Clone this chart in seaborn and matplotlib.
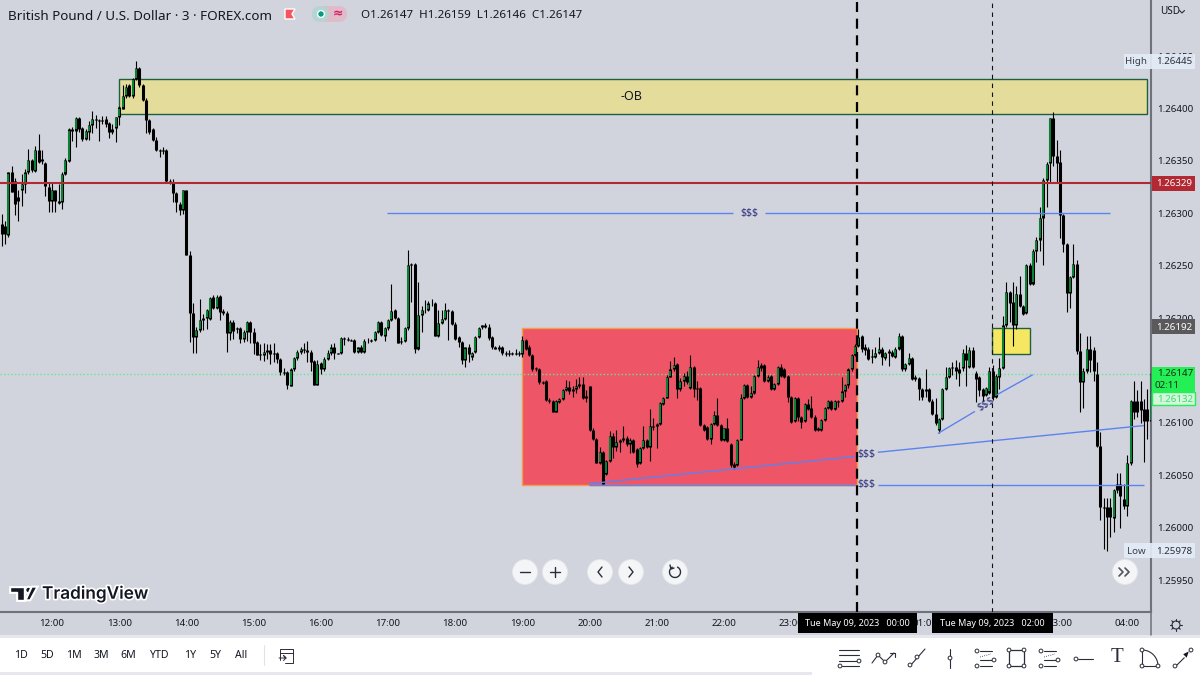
import numpy as np
import pandas as pd
import matplotlib
matplotlib.use("Agg")
import matplotlib.pyplot as plt
from matplotlib.patches import Rectangle, Circle, FancyBboxPatch, Polygon
from matplotlib.ticker import FuncFormatter
import matplotlib.patheffects as pe
import seaborn as sns

# GBP/USD 3-minute candles, in points above 1.26000 (one point = 0.00001)
opens = [
    290,288,279,339,331,316,322,328,339,351, 340,360,352,348,325,312,322,312,311,338,
    350,380,379,391,381,371,378,384,390,389, 388,390,386,380,381,392,400,412,422,412,
    428,439,422,408,389,380,370,360,359,360, 331,330,319,309,303,322,260,205,182,189,
    198,200,199,220,210,221,207,205,186,196, 190,191,180,187,196,187,177,166,165,168,
    170,167,167,161,149,149,135,151,162,168, 171,170,168,159,136,157,151,161,167,172,
    167,167,181,180,179,179,168,172,168,178, 178,179,187,196,183,191,198,208,200,178,
    178,191,251,252,171,203,208,208,214,214, 183,195,199,208,207,194,182,177,160,172,
    163,168,182,192,192,192,182,172,172,172, 167,167,167,166,167,166,179,172,165,152,
    151,139,140,122,121,110,120,123,131,134, 130,132,135,137,124,135,93,85,62,72,
    51,64,88,77,82,84,86,80,84,75, 62,76,84,77,97,97,99,118,124,144,
    151,156,132,140,145,133,153,133,133,98, 96,85,99,108,98,84,95,80,61,60,
    84,124,136,125,129,145,155,155,140,145, 132,137,153,151,145,125,102,124,106,102,
    118,114,106,95,93,103,114,121,113,121, 121,130,136,151,165,173,183,172,171,164,
    163,167,171,162,167,168,163,171,183,151, 156,162,144,143,132,130,132,121,109,93,
    104,132,144,152,153,151,152,167,153,170, 148,144,132,127,129,150,125,144,152,193,
    225,215,193,223,212,205,251,233,264,275, 296,332,348,391,355,349,298,271,224,239,
    252,169,139,150,171,170,147,78,20,20, 20,9,42,42,27,21,62,121,121,121,
    113,113,102,
]
highs = [
    299,293,339,345,334,322,338,342,361,352, 364,376,360,349,330,330,322,328,339,353,
    381,382,392,392,382,380,388,398,394,390, 393,393,387,385,392,402,422,423,423,429,
    445,440,423,410,390,381,373,361,363,361, 333,333,320,311,322,322,264,214,192,218,
    204,209,220,222,222,222,209,207,198,198, 192,192,189,197,197,191,178,175,176,175,
    175,176,168,162,152,150,152,163,170,172, 176,178,170,160,160,158,163,170,175,176,
    167,182,182,182,180,180,172,174,180,181, 180,188,197,197,192,199,233,209,201,182,
    192,265,253,253,234,212,217,216,218,215, 208,208,214,209,208,196,183,178,172,175,
    168,183,192,193,195,194,183,173,174,173, 169,170,168,171,169,183,180,174,166,153,
    152,140,141,124,122,122,124,132,141,140, 135,142,144,144,131,135,95,86,77,73,
    65,92,90,93,85,97,88,86,85,76, 77,97,85,113,105,100,120,125,146,159,
    163,157,143,148,150,165,154,140,134,99, 97,100,111,124,99,95,105,81,63,85,
    128,137,137,135,146,160,157,156,146,146, 138,154,156,152,146,126,125,125,107,119,
    123,126,108,96,104,115,122,122,122,122, 144,137,152,166,175,190,184,175,172,171,
    172,182,172,168,171,170,172,186,184,157, 167,163,146,144,133,151,133,123,124,105,
    133,153,153,158,160,158,171,174,172,172, 150,145,133,134,153,155,147,162,202,234,
    226,234,231,240,213,252,253,266,277,306, 334,349,391,397,370,360,299,272,240,271,
    255,186,152,183,183,172,158,91,28,28, 28,37,52,52,42,69,122,140,131,140,
    123,132,150,
]
lows = [
    269,271,277,320,298,293,307,319,338,339, 339,348,347,317,301,301,301,309,304,337,
    349,369,363,378,369,370,370,377,381,369, 385,382,372,376,368,384,400,410,411,410,
    427,421,407,377,376,369,359,354,357,330, 328,311,301,298,299,260,177,167,167,187,
    189,190,198,209,209,198,203,168,179,180, 186,176,177,178,176,166,165,160,159,161,
    156,158,157,146,146,132,135,150,160,166, 167,158,150,136,136,147,150,160,165,161,
    166,166,174,178,178,167,167,167,167,176, 177,178,186,183,178,189,197,199,176,175,
    177,189,215,167,170,187,205,207,212,183, 182,194,198,179,193,179,172,156,153,158,
    160,167,181,190,191,179,171,171,169,165, 164,164,165,165,164,163,170,164,150,150,
    137,137,121,119,110,110,119,122,130,128, 125,129,133,123,120,92,84,62,61,42,
    50,63,67,73,72,82,78,71,71,58, 61,75,76,64,93,76,98,117,124,144,
    150,124,130,135,137,132,125,122,97,92, 84,80,98,97,83,83,82,58,56,59,
    84,123,124,124,128,144,150,139,139,131, 131,136,144,143,120,100,101,102,95,101,
    112,105,92,92,92,102,113,112,112,115, 120,125,133,150,164,172,168,165,160,157,
    162,166,155,160,154,163,162,170,150,150, 155,141,140,122,122,125,120,108,98,90,
    103,131,143,146,142,135,150,135,152,152, 120,126,121,126,128,122,124,132,151,192,
    196,173,190,211,203,204,232,232,254,264, 251,306,330,345,330,276,263,206,210,238,
    166,110,114,148,149,140,77,7,-20,-22, -9,-4,33,0,18,11,60,104,106,100,
    63,85,102,
]
closes = [
    280,280,339,320,309,312,328,339,351,341, 360,349,350,326,312,322,312,310,338,351,
    380,379,391,380,371,379,384,390,389,388, 389,385,378,378,392,401,412,421,412,428,
    439,422,408,389,378,370,360,359,360,331, 330,319,311,303,322,260,205,182,189,198,
    200,208,219,210,220,206,205,186,196,188, 191,180,187,196,187,176,165,165,168,170,
    166,166,161,149,148,136,151,162,168,171, 170,168,158,136,156,151,161,167,172,167,
    166,181,180,179,178,168,172,168,178,178, 179,187,196,184,191,198,207,200,176,177,
    191,251,252,171,203,208,208,214,214,183, 195,199,208,207,194,180,177,160,172,166,
    167,182,191,193,193,181,172,171,171,167, 166,166,166,167,166,179,171,165,151,151,
    139,138,122,121,110,121,123,131,134,130, 132,135,137,124,126,93,85,62,72,42,
    64,88,77,82,84,86,80,84,72,61, 76,84,77,97,96,99,119,124,144,151,
    155,132,140,145,139,153,132,132,98,93, 85,99,108,98,84,95,83,60,58,84,
    124,136,125,129,145,153,152,140,144,132, 137,153,145,144,125,101,124,106,101,118,
    113,106,93,93,103,114,121,113,121,120, 130,136,151,165,173,182,171,170,161,163,
    167,171,163,167,169,164,171,183,151,156, 162,142,142,132,125,132,121,109,100,104,
    132,144,152,153,150,148,167,160,170,153, 142,131,126,133,150,125,145,152,193,225,
    214,193,223,212,204,251,233,264,275,296, 332,347,391,355,348,298,271,224,239,252,
    169,139,150,171,160,150,78,20,19,10, 10,36,36,30,21,62,121,110,110,112,
    102,102,147,
]

def price(points):
    return 1.26 + np.asarray(points, dtype=float) * 1e-5

# hour labels and the bar each one falls on (first bar is 11:15)
hour_labels = ["12:00","13:00","14:00","15:00","16:00","17:00","18:00","19:00","20:00",
               "21:00","22:00","23:00","","01:00","","03:00","04:00"]
hour_bars = [15 + 20 * i for i in range(len(hour_labels))]

price_ticks = [1.25950, 1.26000, 1.26050, 1.26100, 1.26200, 1.26250,
               1.26300, 1.26350, 1.26400, 1.26450]

# drawn levels and zones, in bar number and points
ob_zone = (34.9, 340.9, 394.3, 428.6)
red_zone = (154.9, 254.6, 41.0, 191.0)
small_zone = (294.8, 306.1, 166.0, 191.0)
resistance_level = 329
last_close = 147
session_lines = (254.6, 294.8)
level_300 = [(114.7, 217.7, 300, 300), (227.2, 329.9, 300, 300)]
level_041 = [(174.8, 254.0, 41, 41), (260.8, 340.0, 41, 41)]
trend_main = [(174.8, 254.0, 42, 68), (260.8, 340.0, 72, 97.5)]
trend_short = [(278.7, 289.7, 90, 111), (296.3, 306.9, 127, 146)]

BG = "#d1d4dc"
GREEN = "#0b9c3f"
BLUE = "#5c82ee"
TEXT = "#131722"

sns.set_theme(style="white", rc={
    "figure.facecolor": BG, "axes.facecolor": BG, "lines.solid_capstyle": "butt",
    "axes.edgecolor": "#6f727b",
})
plt.rcParams["font.family"] = ["Noto Sans", "DejaVu Sans"]

fig = plt.figure(figsize=(12, 6.75), dpi=100)
ax = fig.add_axes([0, 1 - 612 / 675, 1151 / 1200, 612 / 675])
ax.set_zorder(1)

# candle table
bars = np.arange(len(closes))
o, h, l, c = (np.array(a, dtype=float) for a in (opens, highs, lows, closes))
wicks = pd.DataFrame({"bar": np.repeat(bars, 2), "price": price(np.column_stack([l, h]).ravel())})
bodies = pd.DataFrame({"bar": np.repeat(bars, 2), "price": price(np.column_stack([o, c]).ravel())})
up = c > o + 2
inner = pd.DataFrame({
    "bar": np.repeat(bars[up], 2),
    "price": price(np.column_stack([o[up] + 1, c[up] - 1]).ravel()),
})

def zone(rect, face, edge, lw=1.0):
    x0, x1, y0, y1 = rect
    ax.add_patch(Rectangle((x0, price(y0)), x1 - x0, price(y1) - price(y0),
                           facecolor=face, edgecolor=edge, linewidth=lw, zorder=1.5))

zone(ob_zone, "#e4dc9b", "#1f5f3f", 1.0)
zone(red_zone, "#ee5566", "#f3a04b", 1.0)
zone(small_zone, "#f6e763", "#1f5f3f", 1.0)

common = dict(units="bar", estimator=None, sort=False, legend=False, ax=ax)
sns.lineplot(data=wicks, x="bar", y="price", color="black", linewidth=0.8, zorder=3, **common)
sns.lineplot(data=bodies, x="bar", y="price", color="black", linewidth=2.2, zorder=3.1, **common)
sns.lineplot(data=inner, x="bar", y="price", color=GREEN, linewidth=1.2, zorder=3.2, **common)

# price levels and trend lines
ax.axhline(price(resistance_level), color="#b22833", linewidth=1.5, zorder=4)
ax.axhline(price(last_close), color="#66e592", linewidth=1.0, linestyle=(0, (1, 1.6)), zorder=2.5)
for seg in level_300 + level_041 + trend_main + trend_short:
    ax.plot(seg[:2], price(seg[2:]), color=BLUE, linewidth=1.0, zorder=4)
ax.axvline(session_lines[0], color="black", linewidth=1.6, linestyle=(0, (4.5, 3)), zorder=5)
ax.axvline(session_lines[1], color="#111111", linewidth=0.8, linestyle=(0, (4, 4)), zorder=5)

ax.text(187.6, price(411), "-OB", ha="center", va="center", fontsize=9, color=TEXT, zorder=6)
for bx, pts, rot in [(222.5, 300, 0), (257.5, 69.5, 0), (257.5, 41, 0), (293, 118, 32)]:
    ax.text(bx, price(pts), "$$$", ha="center", va="center", fontsize=7.6, color="#2a2e78",
            rotation=rot, rotation_mode="anchor", zorder=6)

# axes and scales
ax.set_xlim(-0.476, 342.1)
ax.set_ylim(price(-80.4), price(503.55))
ax.set_xticks(hour_bars, hour_labels)
ax.set_yticks(price_ticks)
ax.yaxis.set_major_formatter(FuncFormatter(lambda v, _: f"{v:.5f}"))
ax.yaxis.tick_right()
ax.tick_params(axis="x", length=0, pad=5, labelsize=7.0, colors=TEXT)
ax.tick_params(axis="y", length=0, pad=4.2, labelsize=7.0, colors=TEXT)
ax.set_xlabel("")
ax.set_ylabel("")
ax.grid(False)
for side in ("top", "left"):
    ax.spines[side].set_visible(False)
for side in ("bottom", "right"):
    ax.spines[side].set_linewidth(1.5)
    ax.spines[side].set_color("#6f727b")

# interface layer, one data unit per pixel
ui = fig.add_axes([0, 0, 1, 1], facecolor="none")
ui.set_xlim(0, 1200)
ui.set_ylim(675, 0)
ui.axis("off")
ui.set_zorder(5)

def rect(x0, y0, x1, y1, face, edge="none", lw=0, z=2, alpha=None):
    ui.add_patch(Rectangle((x0, y0), x1 - x0, y1 - y0, facecolor=face, edgecolor=edge,
                           linewidth=lw, zorder=z, alpha=alpha))

def label(x, y, s, size=7.0, color=TEXT, ha="center", z=4, **kw):
    ui.text(x, y, s, fontsize=size, color=color, ha=ha, va="center", zorder=z, **kw)

def stroke(xs, ys, lw=0.8, color="#2a2e39", z=4, **kw):
    ui.plot(xs, ys, color=color, linewidth=lw, zorder=z, solid_capstyle="round", **kw)

def handle(x, y, r=1.9):
    ui.add_patch(Circle((x, y), r, facecolor="white", edgecolor="#2a2e39", linewidth=0.7, zorder=5))

# vertical rule that runs on through the time scale
stroke([1151, 1151], [612, 635], lw=1.1, color="#6f727b")

# header line
label(8, 16, "British Pound / U.S. Dollar · 3 · FOREX.com", size=9.7, ha="left")
ui.add_patch(Polygon([(285, 9), (295, 9), (292, 14), (295, 19), (285, 19)], facecolor="#f7525f", zorder=4))
ui.add_patch(FancyBboxPatch((320, 6), 18, 16, boxstyle="round,pad=0,rounding_size=2", facecolor="#e0bccb", edgecolor="none", zorder=3))
ui.add_patch(FancyBboxPatch((312, 6), 17, 16, boxstyle="round,pad=0,rounding_size=8", facecolor="#b4d5d2", edgecolor="none", zorder=3.1))
ui.add_patch(FancyBboxPatch((329, 6), 18, 16, boxstyle="round,pad=0,rounding_size=8", facecolor="#e0bccb", edgecolor="none", zorder=3.1))
ui.add_patch(Circle((321, 14), 3.4, facecolor="#089981", zorder=4))
label(338, 14, "≈", size=9, color="#d81b60", fontweight="bold")
label(361, 16, "O1.26147  H1.26159  L1.26146  C1.26147", size=8.35, ha="left")
label(1170, 11.5, "USD", size=7.2)
stroke([1179.5, 1182, 1184.5], [10.5, 13, 10.5], lw=0.8)

# price tags on the right scale
rect(1124, 54, 1195, 69, "#e3edf7", alpha=0.92)
label(1136, 61.5, "High", size=7.0, color="#3b3f4a")
label(1174, 61.5, "1.26445", color="#2a2e39")
rect(1124, 543, 1195, 558, "#e3edf7", alpha=0.92)
label(1136, 551, "Low", size=7.0, color="#3b3f4a")
label(1174, 551, "1.25978", color="#2a2e39")
rect(1152, 176, 1195, 191, "#b22833")
label(1174, 183.5, "1.26329", color="white", fontweight="bold")
rect(1152, 319, 1195, 334, "#5a5a5c")
label(1174, 327, "1.26192", color="white", fontweight="bold")
rect(1152, 367, 1195, 392, "#24ef55")
label(1175, 374, "1.26147", color="#14301c", fontweight="bold", z=5)
label(1167, 386, "02:11", color="#14301c", z=5)
rect(1152, 392, 1195, 405, "#d5f5dd", edge="#24ef55", lw=1)
label(1175, 399, "1.26132", color="#37e06a", fontweight="bold", z=5)

# crosshair date tags
for x0, x1, tag in [(798, 917, "Tue May 09, 2023   00:00"), (932, 1053, "Tue May 09, 2023   02:00")]:
    rect(x0, 613, x1, 633, "black")
    label((x0 + x1) / 2, 623, tag, size=6.5, color="white")

# chart navigation buttons
for x, y in [(525, 572), (555, 572), (600, 572), (631, 572), (675, 572), (1125, 572)]:
    ui.add_patch(Circle((x, y), 12.5, facecolor="#f4f5f7", edgecolor="#e4e6ec", linewidth=0.6, zorder=3))
stroke([520, 530], [572, 572], lw=1.0)
stroke([550, 560], [572, 572], lw=1.0)
stroke([555, 555], [567, 577], lw=1.0)
stroke([602, 598, 602], [567, 572, 577], lw=1.0)
stroke([629, 633, 629], [567, 572, 577], lw=1.0)
ang = np.linspace(-1.1, 4.2, 40)
stroke(675 + 5.5 * np.cos(ang), 572 + 5.5 * np.sin(ang), lw=1.0)
stroke([670, 671, 674], [565, 569, 568], lw=1.0)
stroke([1119, 1123, 1119], [568, 572, 576], lw=1.2, color="#50535e")
stroke([1125, 1129, 1125], [568, 572, 576], lw=1.2, color="#50535e")

# wordmark
halo = [pe.withStroke(linewidth=2.4, foreground="white")]
logo = [Polygon([(10, 587), (24, 587), (24, 600), (17, 600), (17, 592), (10, 592)], facecolor="#131722", zorder=4),
        Circle((28.5, 590), 2.9, facecolor="#131722", zorder=4),
        Polygon([(30, 600), (26, 600), (32, 587), (37, 587)], facecolor="#131722", zorder=4)]
for patch in logo:
    patch.set_path_effects([pe.withStroke(linewidth=2.0, foreground="white")])
    ui.add_patch(patch)
ui.text(42, 594, "TradingView", fontsize=12.4, fontweight="semibold", family="Inter", color="#131722",
        va="center", ha="left", zorder=4, path_effects=halo)

# time-range bar
rect(0, 635, 1200, 675, "#e6e8ee", z=1)
rect(0, 638, 1200, 672, "white", z=1.2)
ui.add_patch(FancyBboxPatch((812, 641), 400, 40, boxstyle="round,pad=0,rounding_size=5", facecolor="white", edgecolor="none", zorder=1.3))
for x, s in zip([21, 47, 74, 101, 128, 159, 190, 215, 241],
                ["1D", "5D", "1M", "3M", "6M", "YTD", "1Y", "5Y", "All"]):
    label(x, 655, s, size=7.6)
stroke([264, 264], [645, 665], lw=0.8, color="#e0e3eb")
stroke([280, 280, 293, 293, 285], [660, 649, 649, 663, 663], lw=0.7)
stroke([280, 293], [652.5, 652.5], lw=0.7)
stroke([279, 286, 283.5, 286, 283.5], [658, 658, 655.5, 658, 660.5], lw=0.7)

# drawing toolbar
for x in (820, 824):
    for y in (653, 658, 663):
        ui.add_patch(Circle((x, y), 0.7, facecolor="#c8cad0", zorder=4))
stroke([839, 859], [649.5, 649.5])
stroke([839, 859], [655, 655])
stroke([839, 857], [661, 661])
stroke([842, 859], [666, 666])
handle(859, 661); handle(840, 666)
stroke([872, 878, 885, 894], [663, 655, 662, 653])
stroke([890, 894.5, 894.5], [653, 653, 657])
handle(878, 655); handle(885, 662)
stroke([910, 925], [666, 649])
handle(910, 665); handle(917, 657)
stroke([950, 950], [649, 668])
handle(950, 658)
for cx in (985, 1049):
    stroke([cx - 5, cx + 7], [651, 651])
    stroke([cx - 5, cx + 7], [660, 660])
    stroke([cx - 5, cx + 7], [666, 666])
    handle(cx - 8, 651); handle(cx + 9, 660); handle(cx - 8, 666)
    stroke([cx - 5, cx + 6], [657, 654], lw=0.6, linestyle=":")
rect(1009, 650, 1024, 666, "none", edge="#2a2e39", lw=0.9, z=4)
for hx in (1009, 1024):
    for hy in (650, 666):
        handle(hx, hy)
stroke([1078, 1093], [659, 659]); handle(1076, 659)
label(1117, 658, "T", size=15, family="Liberation Serif", color="#2a2e39")
arc = np.linspace(0, np.pi / 2, 20)
stroke(1142 + 16 * np.sin(arc), 666 - 16 * np.cos(arc), lw=0.8)
stroke([1142, 1142, 1158], [650, 666, 666])
handle(1142, 650); handle(1142, 666); handle(1158, 666)
stroke([1176, 1190], [666, 652])
handle(1175, 666); handle(1191, 650)
ui.add_patch(Polygon([(1190, 650), (1182, 654), (1187, 659)], facecolor="#131722", zorder=4))

# settings gear
ui.add_patch(Circle((1176, 625), 4.0, facecolor="none", edgecolor="#2a2e39", linewidth=0.8, zorder=4))
for a in np.arange(0, 2 * np.pi, np.pi / 4):
    stroke([1176 + 4.0 * np.cos(a), 1176 + 6.0 * np.cos(a)], [625 + 4.0 * np.sin(a), 625 + 6.0 * np.sin(a)], lw=0.8)

fig.savefig("out.png", dpi=100, facecolor=BG)
